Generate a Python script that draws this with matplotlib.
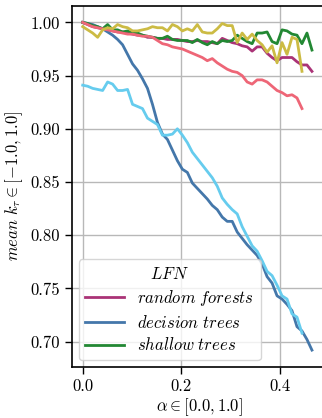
import numpy as np
import matplotlib
matplotlib.use('Agg')
from matplotlib import pyplot as plt

plt.rcParams['font.family'] = 'serif'
plt.rcParams['font.serif'] = ['cmr10']
plt.rcParams['mathtext.fontset'] = 'cm'
plt.rcParams['axes.formatter.use_mathtext'] = True
plt.rcParams['font.size'] = 12

# alpha grid shared by all runs
alpha = np.linspace(0.0, 0.465, 47)

# LFN models (legend entries)
random_forests = [1.000, 0.998, 0.996, 0.995, 0.994, 0.993, 0.992, 0.991, 0.991, 0.990,
                  0.989, 0.988, 0.988, 0.986, 0.986, 0.985, 0.985, 0.984, 0.984, 0.984,
                  0.983, 0.982, 0.982, 0.983, 0.982, 0.982, 0.981, 0.980, 0.985, 0.983,
                  0.981, 0.980, 0.978, 0.977, 0.973, 0.977, 0.977, 0.971, 0.967, 0.964,
                  0.967, 0.967, 0.967, 0.963, 0.960, 0.960, 0.954]
decision_trees = [1.000, 0.999, 0.998, 0.996, 0.994, 0.991, 0.988, 0.984, 0.979, 0.970,
                  0.961, 0.955, 0.947, 0.938, 0.923, 0.906, 0.895, 0.890, 0.880, 0.870,
                  0.862, 0.859, 0.849, 0.844, 0.839, 0.834, 0.828, 0.824, 0.817, 0.813,
                  0.813, 0.803, 0.797, 0.791, 0.786, 0.781, 0.773, 0.761, 0.755, 0.743,
                  0.740, 0.735, 0.729, 0.714, 0.710, 0.702, 0.692]
shallow_trees = [1.000, 0.999, 0.997, 0.996, 0.994, 0.998, 0.993, 0.993, 0.991, 0.992,
                 0.990, 0.990, 0.988, 0.987, 0.986, 0.985, 0.985, 0.987, 0.984, 0.983,
                 0.983, 0.983, 0.981, 0.984, 0.981, 0.979, 0.982, 0.980, 0.983, 0.982,
                 0.983, 0.988, 0.985, 0.982, 0.980, 0.990, 0.990, 0.991, 0.982, 0.980,
                 0.993, 0.992, 0.989, 0.988, 0.980, 0.990, 0.974]

# second set of runs (no legend entry)
random_forests_b = [1.000, 0.998, 0.996, 0.995, 0.994, 0.993, 0.992, 0.991, 0.990, 0.989,
                    0.989, 0.988, 0.987, 0.987, 0.986, 0.983, 0.980, 0.979, 0.977, 0.976,
                    0.975, 0.973, 0.971, 0.969, 0.967, 0.964, 0.966, 0.962, 0.959, 0.956,
                    0.954, 0.953, 0.950, 0.944, 0.942, 0.946, 0.946, 0.944, 0.940, 0.936,
                    0.934, 0.931, 0.932, 0.929, 0.919]
decision_trees_b = [0.941, 0.940, 0.938, 0.937, 0.936, 0.944, 0.942, 0.936, 0.936, 0.937,
                    0.923, 0.921, 0.919, 0.910, 0.907, 0.904, 0.894, 0.894, 0.895, 0.900,
                    0.894, 0.887, 0.878, 0.872, 0.866, 0.860, 0.854, 0.846, 0.835, 0.829,
                    0.824, 0.820, 0.808, 0.799, 0.790, 0.785, 0.776, 0.766, 0.762, 0.753,
                    0.743, 0.740, 0.726, 0.723, 0.708]
shallow_trees_b = [0.996, 0.993, 0.990, 0.986, 0.993, 0.995, 0.994, 0.998, 0.996, 0.995,
                   0.992, 0.992, 0.993, 0.994, 0.996, 0.995, 0.995, 0.992, 0.998, 0.996,
                   0.992, 0.994, 0.992, 0.998, 0.991, 0.990, 0.990, 0.994, 0.999, 0.997,
                   0.997, 0.981, 0.990, 0.984, 0.989, 0.983, 0.979, 0.972, 0.978, 0.962,
                   0.981, 0.970, 0.986, 0.984, 0.954]

labels = ['random forests', 'decision trees', 'shallow trees']
colors = ['#AA3377', '#4477AA', '#228833']
colors_b = ['#EE6677', '#66CCEE', '#CCBB44']

fig = plt.figure(figsize=(3.22, 4.18), dpi=100)
ax = fig.add_axes([72 / 322, 51.3 / 418, 254 / 322, 361 / 418])

lw = 2.0
for y, c, lab in zip([random_forests, decision_trees, shallow_trees], colors, labels):
    ax.plot(alpha[:len(y)], y, color=c, lw=lw, label='$' + lab.replace(' ', r'\ ') + '$')
for y, c in zip([random_forests_b, decision_trees_b, shallow_trees_b], colors_b):
    ax.plot(alpha[:len(y)], y, color=c, lw=lw)

ax.set_xlim(-0.0217, 0.4935)
ax.set_ylim(0.6764, 1.0157)
ax.set_xticks([0.0, 0.2, 0.4])
ax.set_yticks([0.70, 0.75, 0.80, 0.85, 0.90, 0.95, 1.00])
ax.yaxis.set_major_formatter(matplotlib.ticker.FormatStrFormatter('%.2f'))
ax.xaxis.set_major_formatter(matplotlib.ticker.FormatStrFormatter('%.1f'))
ax.tick_params(length=5, width=1.0)
ax.grid(True, color='#b8b8b8', lw=1.0)
ax.set_axisbelow(True)
for s in ax.spines.values():
    s.set_linewidth(1.2)

ax.set_xlabel(r'$\alpha \in [0.0, 1.0]$', labelpad=2)
ax.set_ylabel(r'$mean\ k_\tau \in [-1.0, 1.0]$', labelpad=4)

leg = ax.legend(title='$LFN$', loc='lower left', handlelength=2.3,
                borderaxespad=0.4, labelspacing=0.35)

fig.savefig('out.png', dpi=100)
